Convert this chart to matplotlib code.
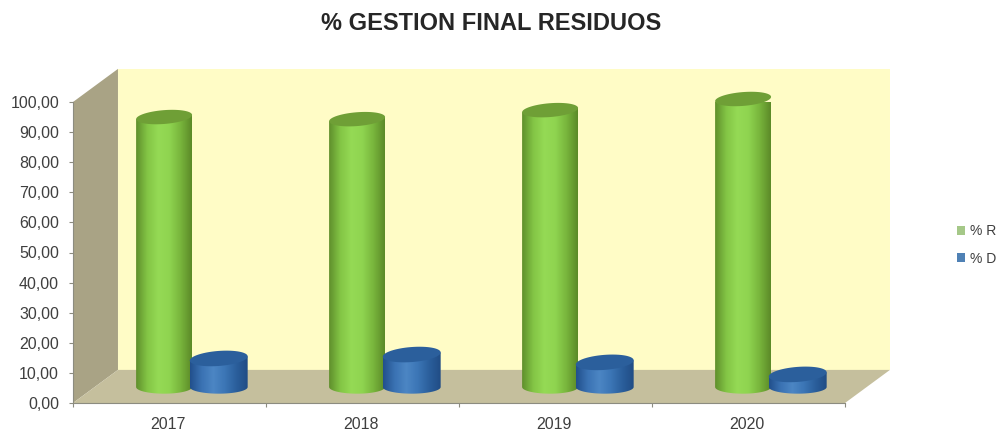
import numpy as np
import matplotlib
matplotlib.use('Agg')
import matplotlib.pyplot as plt
from matplotlib.colors import LinearSegmentedColormap
from matplotlib.patches import PathPatch, Polygon, Rectangle
from matplotlib.path import Path

years = ['2017', '2018', '2019', '2020']
pct_r = [89.7, 89.0, 92.0, 95.7]
pct_d = [9.5, 10.8, 8.2, 4.2]
y_ticks = [0, 10, 20, 30, 40, 50, 60, 70, 80, 90, 100]

plt.rcParams['font.family'] = ['Liberation Sans', 'DejaVu Sans']
TXT = '#3f3f3f'

# 3d look: depth of the box and where the cylinders sit in it, in data units
DX, DY = 0.233, 11
BASE = 5.3
TILT = 0.7

fig = plt.figure(figsize=(10.07, 4.32), dpi=100)
ax = fig.add_axes([73 / 1007, 1 - 403 / 432, 772 / 1007, 301 / 432])

n = len(years)
ax.add_patch(Polygon([(0, 0), (0, 100), (DX, 100 + DY), (DX, DY)], fc='#a9a385', ec='none', clip_on=False, zorder=1))
ax.add_patch(Rectangle((DX, DY), n, 100, fc='#fffcc6', ec='none', clip_on=False, zorder=1))
ax.add_patch(Polygon([(0, 0), (n, 0), (n + DX, DY), (DX, DY)], fc='#c5bf9d', ec='none', clip_on=False, zorder=1))


def cylinder(x, value, w, ry, cmap, top_col, z):
    # body is a rectangle with a rounded bottom, the shading is an image clipped to it
    t = np.linspace(np.pi, 2 * np.pi, 30)
    xs = x + w / 2 * np.cos(t)
    ys = BASE + 2.2 * np.sin(t)
    top = BASE + value
    verts = list(zip(xs, ys)) + [(x + w / 2, top + TILT), (x - w / 2, top - TILT), (xs[0], ys[0])]
    body = PathPatch(Path(verts), fc='none', ec='none', clip_on=False, zorder=z)
    ax.add_patch(body)
    im = ax.imshow(np.linspace(0, 1, 128).reshape(1, -1), cmap=cmap, aspect='auto', zorder=z,
                   extent=[x - w / 2, x + w / 2, BASE - 2.2, top + TILT])
    im.set_clip_path(body)
    # top cap leans a little, left side lower than right
    t = np.linspace(0, 2 * np.pi, 60)
    cx = x + w / 2 * np.cos(t)
    cy = top + ry * np.sin(t) + TILT * np.cos(t)
    ax.add_patch(Polygon(np.column_stack([cx, cy]), fc=top_col, ec='none', clip_on=False, zorder=z + 0.1))


green = LinearSegmentedColormap.from_list('g', ['#5f8f2c', '#83c545', '#95da55', '#8fd450', '#78b53c', '#5c8a28'])
blue = LinearSegmentedColormap.from_list('b', ['#22508c', '#3a72b3', '#4c86c4', '#3c76b6', '#2b5f9c', '#204c85'])

for i in range(n):
    cylinder(i + 0.472, pct_r[i], 0.29, 2.3, green, '#6f9f36', 3 + i * 2)
    cylinder(i + 0.755, pct_d[i], 0.30, 2.5, blue, '#2b5f9c', 4 + i * 2)

ax.set_xlim(0, n)
ax.set_ylim(0, 100)
ax.patch.set_alpha(0)
for s in ['top', 'right']:
    ax.spines[s].set_visible(False)
for s in ['left', 'bottom']:
    ax.spines[s].set_color('#8c8c80')
    ax.spines[s].set_linewidth(0.8)
    ax.spines[s].set_zorder(2)

ax.set_yticks(y_ticks)
ax.set_yticklabels([f'{v:.2f}'.replace('.', ',') for v in y_ticks], fontsize=11.5, color=TXT)
ax.set_xticks(range(n + 1))
ax.set_xticklabels([])
ax.set_xticks(np.arange(n) + 0.49, minor=True)
ax.set_xticklabels(years, minor=True, fontsize=11.5, color=TXT)
ax.tick_params(axis='x', which='minor', length=0, pad=10)
ax.tick_params(axis='x', which='major', length=3, color='#8c8c80', width=0.8)
ax.tick_params(axis='y', length=3, color='#8c8c80', width=0.8, pad=7)

fig.text(491 / 1007, 1 - 24 / 432, '% GESTION FINAL RESIDUOS', fontsize=17, fontweight='bold',
         color='#262626', ha='center', va='center')

handles = [Rectangle((0, 0), 1, 1, fc='#a5c888', ec='none'), Rectangle((0, 0), 1, 1, fc='#4f81b5', ec='none')]
fig.legend(handles, ['% R', '% D'], loc='center left', bbox_to_anchor=(944 / 1007, 1 - 245 / 432), frameon=False,
           fontsize=10, labelcolor=TXT, handlelength=0.6, handleheight=0.6, handletextpad=0.4, labelspacing=0.95)

fig.savefig('out.png', dpi=100)
